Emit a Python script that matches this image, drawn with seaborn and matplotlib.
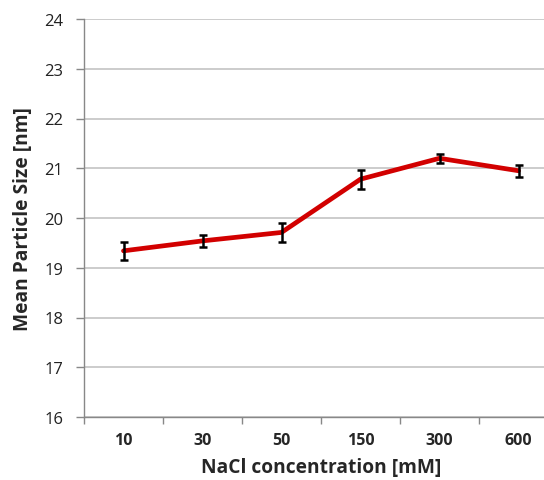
import matplotlib
matplotlib.use("Agg")
import matplotlib.pyplot as plt
import seaborn as sns
import pandas as pd
import numpy as np

concentrations = ["10", "30", "50", "150", "300", "600"]
mean_size = [19.34, 19.54, 19.71, 20.78, 21.20, 20.95]
size_err = [0.175, 0.127, 0.19, 0.19, 0.095, 0.12]

df = pd.DataFrame({"pos": np.arange(len(concentrations)),
                   "size": mean_size, "err": size_err})

sns.set_theme(style="white")
plt.rcParams["font.family"] = ["Open Sans", "DejaVu Sans"]

W, H = 544, 481
fig = plt.figure(figsize=(W / 100, H / 100), dpi=100)
left, right, top, bottom = 84, 558, 20, 418
ax = fig.add_axes([left / W, 1 - bottom / H, (right - left) / W, (bottom - top) / H])

# horizontal gridlines
ax.set_ylim(16, 24)
ax.set_yticks(range(16, 25))
ax.yaxis.grid(True, color="#BEBEBE", linewidth=1.1)
ax.set_axisbelow(True)

sns.lineplot(data=df, x="pos", y="size", ax=ax, color="#D20000",
             linewidth=3.4, zorder=3)
ax.errorbar(df["pos"], df["size"], yerr=df["err"], fmt="none",
            ecolor="black", elinewidth=1.8, capsize=3, capthick=1.8, zorder=4)

ax.set_xlim(-0.5, len(concentrations) - 0.5)
ax.set_xticks(df["pos"])
ax.set_xticklabels(concentrations, fontweight="bold", fontsize=11.5)
ax.set_xticks(np.arange(len(concentrations) + 1) - 0.5, minor=True)
ax.tick_params(axis="x", which="major", length=0, pad=11)
ax.tick_params(axis="x", which="minor", length=5, width=1, color="#888888",
               direction="out", bottom=True)
ax.tick_params(axis="y", which="major", length=6, width=1, color="#888888",
               direction="out", left=True, labelsize=12, pad=9)
for lab in ax.get_yticklabels():
    lab.set_color("#222222")

for s in ["top", "right"]:
    ax.spines[s].set_visible(False)
for s in ["left", "bottom"]:
    ax.spines[s].set_color("#888888")
    ax.spines[s].set_linewidth(1)

ax.set_xlabel("NaCl concentration [mM]", fontweight="bold", fontsize=13.8,
              labelpad=6)
ax.set_ylabel("Mean Particle Size [nm]", fontweight="bold", fontsize=13.8,
              labelpad=8)

fig.savefig("out.png", dpi=100)
